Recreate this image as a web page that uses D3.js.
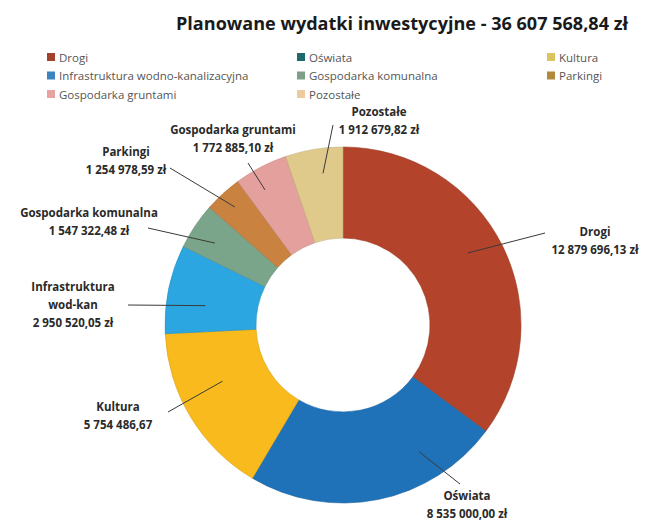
<!DOCTYPE html>
<html>
<head>
<meta charset="utf-8">
<script src="https://cdn.jsdelivr.net/npm/d3@7"></script>
<style>
  body { margin: 0; background: #fff; }
  svg { display: block; font-family: "Open Sans", sans-serif; }
</style>
</head>
<body>
<div id="chart"></div>
<script>
// Chart data
const categories = [
  "Drogi", "Oświata", "Kultura", "Infrastruktura wodno-kanalizacyjna",
  "Gospodarka komunalna", "Parkingi", "Gospodarka gruntami", "Pozostałe"
]
const values = [
  12879696.13, 8535000.00, 5754486.67, 2950520.05,
  1547322.48, 1254978.59, 1772885.10, 1912679.82
]
const labelNames = [
  ["Drogi"], ["Oświata"], ["Kultura"], ["Infrastruktura", "wod-kan"],
  ["Gospodarka komunalna"], ["Parkingi"], ["Gospodarka gruntami"], ["Pozostałe"]
]
const valueLabels = [
  "12 879 696,13 zł", "8 535 000,00 zł", "5 754 486,67", "2 950 520,05 zł",
  "1 547 322,48 zł", "1 254 978,59 zł", "1 772 885,10 zł", "1 912 679,82 zł"
]
const title = "Planowane wydatki inwestycyjne - 36 607 568,84 zł"

const sliceColors = [
  "#b3432a", "#1f72b8", "#f8ba1c", "#2ba6e0",
  "#7ba58a", "#c9823f", "#e3a09c", "#dfc98b"
]
const legendColors = [
  "#a3412d", "#1f6b6b", "#d9c45e", "#3a84c0",
  "#7f9f86", "#b08a3a", "#e8a2a0", "#f1c9a0"
]

// Label placement (layout only): text centre, leader start, anchor angle/radius
const labelLayout = [
  { x: 595, y: 236, lx: 545, ly: 233, angle: 60, r: 144 },
  { x: 467, y: 500, lx: 460, ly: 484, angle: 149, r: 148 },
  { x: 118, y: 411, lx: 168, ly: 412, angle: 245, r: 133 },
  { x: 73, y: 291, lx: 128, ly: 305, angle: 278, r: 139 },
  { x: 89, y: 217, lx: 148, ly: 228, angle: 302.6, r: 152 },
  { x: 126, y: 156, lx: 170, ly: 168, angle: 317.5, r: 160 },
  { x: 233, y: 134, lx: 248, ly: 163, angle: 330, r: 156 },
  { x: 379, y: 116, lx: 333, ly: 125, angle: 352.5, r: 153 }
]

const width = 646
const height = 520
const cx = 343, cy = 325
const outerR = 178, innerR = 87

const svg = d3.select("#chart")
  .append("svg")
  .attr("width", width)
  .attr("height", height)

// Title
svg.append("text")
  .attr("x", 176)
  .attr("y", 30)
  .attr("textLength", 452)
  .attr("lengthAdjust", "spacingAndGlyphs")
  .style("font-size", "17px")
  .style("font-weight", "700")
  .style("fill", "#1a1a1a")
  .text(title)

// Legend, three columns
const legendCols = [47, 297, 547]
const legend = svg.append("g")
  .selectAll("g")
  .data(categories)
  .join("g")
  .attr("transform", (d, i) =>
    `translate(${legendCols[i % 3]}, ${53 + Math.floor(i / 3) * 18.5})`)

legend.append("rect")
  .attr("width", 8)
  .attr("height", 8)
  .attr("fill", (d, i) => legendColors[i])

legend.append("text")
  .attr("x", 12)
  .attr("y", 8.5)
  .style("font-size", "11.5px")
  .style("fill", "#555")
  .text(d => d)

// Donut
const pie = d3.pie().sort(null).value(d => d)
const arcs = pie(values)
const arc = d3.arc().innerRadius(innerR).outerRadius(outerR)

const g = svg.append("g").attr("transform", `translate(${cx}, ${cy})`)

g.selectAll("path")
  .data(arcs)
  .join("path")
  .attr("d", arc)
  .attr("fill", (d, i) => sliceColors[i])
  .attr("stroke", (d, i) => d3.color(sliceColors[i]).darker(0.4))
  .attr("stroke-width", 0.6)

// Leader lines
const anchor = (d, i) => {
  const L = labelLayout[i]
  const a = L.angle != null ? L.angle * Math.PI / 180 : (d.startAngle + d.endAngle) / 2
  return [cx + L.r * Math.sin(a), cy - L.r * Math.cos(a)]
}

svg.append("g")
  .selectAll("line")
  .data(arcs)
  .join("line")
  .attr("x1", (d, i) => labelLayout[i].lx)
  .attr("y1", (d, i) => labelLayout[i].ly)
  .attr("x2", (d, i) => anchor(d, i)[0])
  .attr("y2", (d, i) => anchor(d, i)[1])
  .attr("stroke", "#3a3a3a")
  .attr("stroke-width", 1)

// Data labels
const labels = svg.append("g")
  .selectAll("text")
  .data(arcs)
  .join("text")
  .attr("text-anchor", "middle")
  .style("font-size", "11.5px")
  .style("font-weight", "700")
  .style("fill", "#2a2a2a")

labels.each(function (d, i) {
  const L = labelLayout[i]
  const lines = [...labelNames[i], valueLabels[i]]
  d3.select(this).selectAll("tspan")
    .data(lines)
    .join("tspan")
    .attr("x", L.x)
    .attr("y", (t, j) => L.y + j * 18)
    .text(t => t)
})
</script>
</body>
</html>
